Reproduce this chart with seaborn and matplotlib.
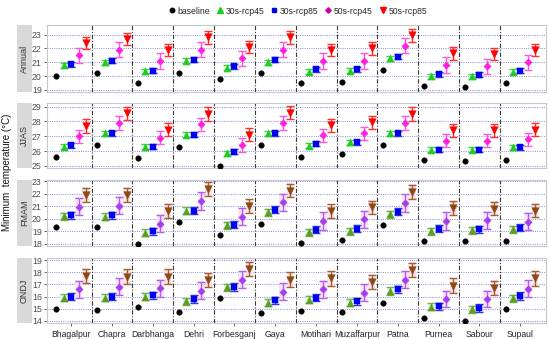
import numpy as np
import pandas as pd
import matplotlib
matplotlib.use("Agg")
import matplotlib.pyplot as plt
from matplotlib.lines import Line2D
from matplotlib.patches import Rectangle
import seaborn as sns

stations = ["Bhagalpur", "Chapra", "Darbhanga", "Dehri", "Forbesganj", "Gaya",
            "Motihari", "Muzaffarpur", "Patna", "Purnea", "Sabour", "Supaul"]
scenarios = ["baseline", "30s-rcp45", "30s-rcp85", "50s-rcp45", "50s-rcp85"]
seasons = ["Annual", "JJAS", "FMAM", "ONDJ"]

# ---- Annual ----
annual_baseline = [20.0, 20.2, 19.5, 20.2, 19.8, 20.2, 19.5, 19.6, 20.45, 19.3, 19.2, 19.5]
annual_30s_rcp45 = [20.8, 21.0, 20.35, 21.1, 20.6, 21.0, 20.3, 20.4, 21.3, 20.0, 20.0, 20.3]
annual_30s_rcp85 = [20.85, 21.1, 20.4, 21.2, 20.7, 21.2, 20.5, 20.5, 21.4, 20.15, 20.1, 20.4]
annual_50s_rcp45 = [21.5, 21.9, 21.1, 21.9, 21.3, 21.9, 21.1, 21.1, 22.2, 20.8, 20.7, 21.0]
annual_50s_rcp85 = [22.4, 22.7, 21.9, 22.8, 22.1, 22.8, 21.9, 22.0, 22.95, 21.65, 21.6, 21.9]
# ---- JJAS ----
jjas_baseline = [25.6, 26.4, 25.5, 26.3, 25.0, 26.4, 25.6, 25.8, 26.4, 25.4, 25.3, 25.4]
jjas_30s_rcp45 = [26.3, 27.2, 26.3, 27.1, 25.85, 27.2, 26.35, 26.6, 27.2, 26.1, 26.1, 26.25]
jjas_30s_rcp85 = [26.4, 27.2, 26.3, 27.1, 25.95, 27.2, 26.5, 26.6, 27.2, 26.1, 26.1, 26.25]
jjas_50s_rcp45 = [27.0, 27.9, 26.9, 27.8, 26.4, 27.9, 27.05, 27.2, 27.9, 26.7, 26.7, 26.8]
jjas_50s_rcp85 = [27.7, 28.55, 27.45, 28.5, 27.1, 28.6, 27.75, 27.95, 28.5, 27.4, 27.4, 27.45]
# ---- FMAM ----
fmam_baseline = [19.3, 19.3, 18.0, 19.75, 18.65, 19.6, 18.05, 18.3, 19.5, 18.2, 18.2, 18.2]
fmam_30s_rcp45 = [20.2, 20.15, 18.85, 20.65, 19.45, 20.5, 18.9, 19.0, 20.35, 19.0, 19.05, 19.15]
fmam_30s_rcp85 = [20.25, 20.25, 19.0, 20.65, 19.5, 20.7, 19.1, 19.2, 20.55, 19.2, 19.15, 19.25]
fmam_50s_rcp45 = [20.95, 21.05, 19.6, 21.4, 20.15, 21.3, 19.8, 19.95, 21.25, 19.8, 19.85, 19.75]
fmam_50s_rcp85 = [21.9, 21.9, 20.6, 22.35, 21.0, 22.25, 20.6, 20.9, 22.15, 20.85, 20.8, 20.65]
# ---- ONDJ ----
ondj_baseline = [14.95, 14.85, 15.1, 14.7, 15.9, 14.6, 14.8, 14.7, 15.5, 14.25, 14.0, 15.0]
ondj_30s_rcp45 = [15.9, 15.9, 16.0, 15.6, 16.75, 15.5, 15.75, 15.5, 16.45, 15.15, 14.95, 15.85]
ondj_30s_rcp85 = [16.0, 16.0, 16.1, 15.8, 16.8, 15.7, 15.9, 15.6, 16.6, 15.2, 15.05, 16.05]
ondj_50s_rcp45 = [16.6, 16.8, 16.7, 16.5, 17.4, 16.4, 16.6, 16.3, 17.4, 15.8, 15.8, 16.65]
ondj_50s_rcp85 = [17.7, 17.65, 17.65, 17.35, 18.3, 17.4, 17.5, 17.2, 18.2, 16.9, 16.7, 17.5]

# error half-widths (°C) per scenario
annual_err = [0.0, 0.18, 0.18, 0.55, 0.45]
jjas_err = [0.0, 0.17, 0.17, 0.45, 0.45]
fmam_err = [0.0, 0.28, 0.28, 0.7, 0.55]
ondj_err = [0.0, 0.3, 0.3, 0.7, 0.6]

season_values = {
    "Annual": [annual_baseline, annual_30s_rcp45, annual_30s_rcp85, annual_50s_rcp45, annual_50s_rcp85],
    "JJAS": [jjas_baseline, jjas_30s_rcp45, jjas_30s_rcp85, jjas_50s_rcp45, jjas_50s_rcp85],
    "FMAM": [fmam_baseline, fmam_30s_rcp45, fmam_30s_rcp85, fmam_50s_rcp45, fmam_50s_rcp85],
    "ONDJ": [ondj_baseline, ondj_30s_rcp45, ondj_30s_rcp85, ondj_50s_rcp45, ondj_50s_rcp85],
}
season_err = {"Annual": annual_err, "JJAS": jjas_err, "FMAM": fmam_err, "ONDJ": ondj_err}

# ---- styles ----
offsets = {"baseline": -0.36, "30s-rcp45": -0.18, "30s-rcp85": 0.0,
           "50s-rcp45": 0.18, "50s-rcp85": 0.36}
markers = {"baseline": "o", "30s-rcp45": "^", "30s-rcp85": "s",
           "50s-rcp45": "D", "50s-rcp85": "v"}
msize = {"baseline": 16, "30s-rcp45": 26, "30s-rcp85": 22, "50s-rcp45": 14, "50s-rcp85": 30}
pal_bright = {"baseline": "#000000", "30s-rcp45": "#1FCC1F", "30s-rcp85": "#0000EE",
              "50s-rcp45": "#FF1FE0", "50s-rcp85": "#FF0000"}
err_bright = {"baseline": "#000000", "30s-rcp45": "#33DD33", "30s-rcp85": "#3333EE",
              "50s-rcp45": "#FF55E0", "50s-rcp85": "#FF3030"}
pal_dark = {"baseline": "#000000", "30s-rcp45": "#5E9E1E", "30s-rcp85": "#0000EE",
            "50s-rcp45": "#A43EF0", "50s-rcp85": "#8B4A12"}
err_dark = {"baseline": "#000000", "30s-rcp45": "#7AB040", "30s-rcp85": "#3333EE",
            "50s-rcp45": "#B060F0", "50s-rcp85": "#A06030"}
shade = {"30s-rcp45": "#D9F7EE", "30s-rcp85": "#D9F2F8",
         "50s-rcp45": "#FBE0F3", "50s-rcp85": "#FBE0EC"}

ylims = {"Annual": (18.85, 23.7), "JJAS": (24.85, 29.25), "FMAM": (17.8, 23.1), "ONDJ": (13.8, 19.2)}
yticks = {"Annual": [19, 20, 21, 22, 23], "JJAS": [25, 26, 27, 28, 29],
          "FMAM": [18, 19, 20, 21, 22, 23], "ONDJ": [14, 15, 16, 17, 18, 19]}
W, H = 550, 339
rows_px = {"Annual": (25, 92), "JJAS": (103, 168), "FMAM": (180, 246), "ONDJ": (258, 323)}
left_px, right_px = 46.7, 546

sns.set_theme(style="white")
plt.rcParams["font.family"] = ["Liberation Sans", "DejaVu Sans"]

fig = plt.figure(figsize=(W / 100, H / 100), dpi=100)

for season in seasons:
    top, bot = rows_px[season]
    ax = fig.add_axes([left_px / W, 1 - bot / H, (right_px - left_px) / W, (bot - top) / H])
    vals = season_values[season]
    errs = season_err[season]
    recs = []
    for si, sc in enumerate(scenarios):
        for i, st in enumerate(stations):
            recs.append({"station": st, "scenario": sc, "value": vals[si][i],
                         "err": errs[si], "x": i + offsets[sc]})
    df = pd.DataFrame(recs)
    dark = season in ("FMAM", "ONDJ")
    pal = pal_dark if dark else pal_bright
    epal = err_dark if dark else err_bright

    for yt in yticks[season]:
        ax.axhline(yt, color="#8A8AE6", lw=0.7, ls=(0, (1.0, 1.3)), zorder=0)
    for k in range(len(stations) - 1):
        ax.axvline(k + 0.5, color="#3A3A3A", lw=0.8, ls=(0, (4, 1.5, 1, 1.5)), zorder=0)

    if dark:
        for sc in scenarios[1:]:
            sub = df[df.scenario == sc]
            for _, r in sub.iterrows():
                ax.add_patch(Rectangle((r.x - 0.085, r.value - r.err - 0.05), 0.17,
                                       2 * r.err + 0.1, facecolor=shade[sc],
                                       edgecolor="none", alpha=0.9, zorder=1))

    for sc in scenarios[1:]:
        sub = df[df.scenario == sc]
        ax.errorbar(sub.x, sub.value, yerr=sub.err, fmt="none", ecolor=epal[sc],
                    elinewidth=1.0, capsize=2.8, capthick=1.0, zorder=2)
    for sc in scenarios:
        sub = df[df.scenario == sc]
        sns.scatterplot(data=sub, x="x", y="value", color=pal[sc], marker=markers[sc],
                        s=msize[sc], edgecolor=pal[sc], linewidth=0.3, ax=ax,
                        legend=False, zorder=3)

    ax.set_xlim(-0.6, 11.63)
    ax.set_ylim(*ylims[season])
    ax.set_yticks(yticks[season])
    ax.set_yticklabels([str(t) for t in yticks[season]], fontsize=6.3, color="#4D4D4D")
    ax.set_xticks(range(len(stations)))
    if season == "ONDJ":
        ax.set_xticklabels(stations, fontsize=6.2, color="#222222")
        ax.tick_params(axis="x", length=2, width=0.6, color="#555555", pad=3, bottom=True)
    else:
        ax.set_xticklabels([])
        ax.tick_params(axis="x", length=0)
    ax.tick_params(axis="y", length=2, width=0.6, color="#555555", pad=1.5, left=True)
    ax.set_xlabel("")
    ax.set_ylabel("")
    for sp in ax.spines.values():
        sp.set_color("#C8C8C8")
        sp.set_linewidth(0.8)

    fig.add_artist(Rectangle((17 / W, 1 - bot / H), 15 / W, (bot - top) / H,
                             transform=fig.transFigure, facecolor="#D9D9D9",
                             edgecolor="none"))
    fig.text(24.5 / W, 1 - (top + bot) / 2 / H, season, rotation=90, ha="center",
             va="center", fontsize=6.5, color="#333333")

fig.text(7 / W, 1 - 172 / H, "Minimum  temperature (\u00b0C)", rotation=90,
         ha="center", va="center", fontsize=7, color="#111111")

handles = [Line2D([], [], ls="none", marker=markers[sc], color=pal_bright[sc],
                  markersize={"baseline": 3.2, "30s-rcp45": 3.8, "30s-rcp85": 3.5,
                              "50s-rcp45": 2.8, "50s-rcp85": 4.2}[sc])
           for sc in scenarios]
handles[3].set_color("#CC0099")
fig.legend(handles, scenarios, loc="center", ncol=5, frameon=False,
           bbox_to_anchor=(297 / W, 1 - 11 / H), fontsize=6.2, handletextpad=0.1,
           columnspacing=0.6, handlelength=1.1)

fig.savefig("out.png", dpi=100)
